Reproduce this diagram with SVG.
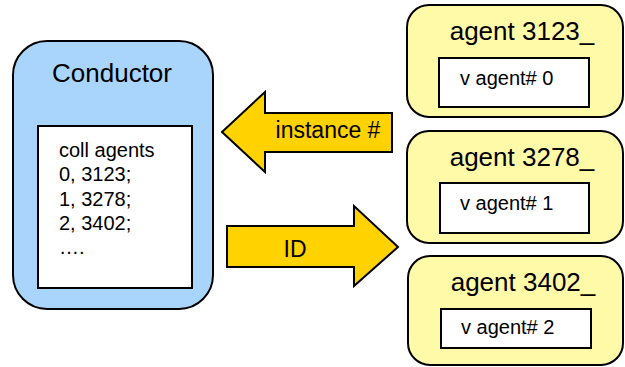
<svg xmlns="http://www.w3.org/2000/svg" width="625" height="367" viewBox="0 0 625 367">
  <style>
    text { font-family: "Liberation Sans", Arial, sans-serif; fill: #000; }
    .conductor { fill: #a9d4fb; stroke: #000; stroke-width: 2; }
    .agent { fill: #fffaa8; stroke: #000; stroke-width: 2; }
    .inner { fill: #fff; stroke: #000; stroke-width: 2; }
    .arrow { fill: #ffd200; stroke: #000; stroke-width: 2; stroke-linejoin: miter; }
    .title { font-size: 26px; text-anchor: middle; }
    .body { font-size: 20px; }
    .label { font-size: 23px; text-anchor: middle; }
  </style>

  <g id="conductor">
    <rect class="conductor" x="13" y="41" width="200" height="268" rx="34" ry="34"/>
    <text class="title" x="112" y="82">Conductor</text>
    <rect class="inner" x="38" y="126" width="154" height="162"/>
    <text class="body" x="59" y="157">coll agents</text>
    <text class="body" x="59" y="181">0, 3123;</text>
    <text class="body" x="59" y="206">1, 3278;</text>
    <text class="body" x="59" y="230">2, 3402;</text>
    <text class="body" x="59" y="254">….</text>
  </g>

  <g id="agent-3123">
    <rect class="agent" x="407" y="5" width="216" height="112" rx="22" ry="22"/>
    <text class="title" x="522" y="40">agent 3123_</text>
    <rect class="inner" x="439" y="58" width="150" height="49"/>
    <text class="body" x="460" y="85">v agent# 0</text>
  </g>

  <g id="agent-3278">
    <rect class="agent" x="407" y="131" width="216" height="112" rx="22" ry="22"/>
    <text class="title" x="522" y="166">agent 3278_</text>
    <rect class="inner" x="440" y="183" width="149" height="50"/>
    <text class="body" x="460" y="210">v agent# 1</text>
  </g>

  <g id="agent-3402">
    <rect class="agent" x="408" y="256" width="215" height="109" rx="22" ry="22"/>
    <text class="title" x="523" y="291">agent 3402_</text>
    <rect class="inner" x="441" y="309" width="150" height="39"/>
    <text class="body" x="461" y="334">v agent# 2</text>
  </g>

  <g id="connectors">
    <g id="arrow-instance">
      <polygon class="arrow" points="222,132 265,92 265,113 392,113 392,152 265,152 265,172"/>
      <text class="label" x="328" y="138">instance #</text>
    </g>
    <g id="arrow-id">
      <polygon class="arrow" points="227,226 354,226 354,206 398,247 354,286 354,267 227,267"/>
      <text class="label" x="295" y="257">ID</text>
    </g>
  </g>
</svg>
